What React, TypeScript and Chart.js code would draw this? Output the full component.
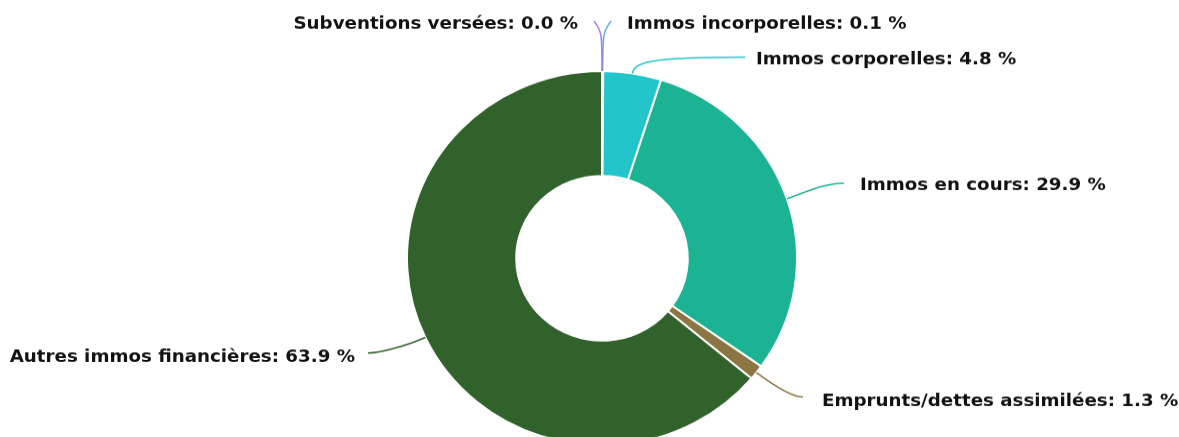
import React, { useEffect, useRef } from 'react';
import { Chart, registerables } from 'chart.js';

Chart.register(...registerables);

// ---- data (clockwise from 12 o'clock) ----
const categories = [
  'Immos incorporelles',
  'Immos corporelles',
  'Immos en cours',
  'Emprunts/dettes assimilées',
  'Autres immos financières',
  'Subventions versées',
];
const shares = [0.1, 4.8, 29.9, 1.3, 63.9, 0.0];
const sliceColors = ['#5da5e8', '#22c5ca', '#1bb394', '#8b7542', '#32622b', '#a678e8'];

// ---- layout ----
const W = 1179;
const H = 475;
const K = 0.96; // vertical display scale of the canvas

// label layout in displayed pixels: text anchor, leader end, leader shape
const labelLayout = [
  { tx: 627, ty: 24, align: 'left', ex: 611, ey: 21, a: 38, c2x: -8, c2y: 10 },
  { tx: 756, ty: 60, align: 'left', ex: 745, ey: 57, a: 12, c2x: -95, c2y: 0 },
  { tx: 860, ty: 186, align: 'left', ex: 844, ey: 183, a: 15, c2x: -20, c2y: 0 },
  { tx: 822, ty: 402, align: 'left', ex: 803, ey: 397, a: 20, c2x: -12, c2y: 0 },
  { tx: 355, ty: 357, align: 'right', ex: 368, ey: 353, a: 20, c2x: 12, c2y: 0 },
  { tx: 578, ty: 24, align: 'right', ex: 594, ey: 21, a: 38, c2x: 8, c2y: 10 },
];

const labelsPlugin = {
  id: 'pieLabels',
  afterDraw(chart: any) {
    const ctx = chart.ctx;
    const meta = chart.getDatasetMeta(0);
    ctx.save();
    meta.data.forEach((arc: any, i: number) => {
      const L = labelLayout[i];
      const mid = (arc.startAngle + arc.endAngle) / 2;
      const dx = Math.cos(mid);
      const dy = Math.sin(mid);
      const r = arc.outerRadius;
      const p0x = arc.x + dx * r;
      const p0y = arc.y + dy * r;
      const c1x = p0x + dx * L.a;
      const c1y = p0y + dy * L.a;
      const ex = L.ex;
      const ey = L.ey / K;
      const c2x = ex + L.c2x;
      const c2y = (L.ey + L.c2y) / K;
      ctx.beginPath();
      ctx.moveTo(p0x, p0y);
      ctx.bezierCurveTo(c1x, c1y, c2x, c2y, ex, ey);
      ctx.strokeStyle = sliceColors[i];
      ctx.lineWidth = 1.5;
      ctx.stroke();

      const text = `${categories[i]}: ${shares[i].toFixed(1)} %`;
      ctx.font = 'bold 18.25px "DejaVu Sans"';
      ctx.fillStyle = '#111111';
      ctx.textBaseline = 'middle';
      ctx.textAlign = L.align;
      ctx.fillText(text, L.tx, L.ty / K);
    });
    ctx.restore();
  },
};

export default function App() {
  const ref = useRef<HTMLCanvasElement | null>(null);

  useEffect(() => {
    document.body.style.margin = '0';
    document.documentElement.style.overflow = 'hidden';
    const canvas = ref.current;
    if (!canvas) return;
    const chart = new Chart(canvas, {
      type: 'doughnut',
      data: {
        labels: categories,
        datasets: [
          {
            data: shares,
            backgroundColor: sliceColors,
            borderColor: '#ffffff',
            borderWidth: 2,
          },
        ],
      },
      options: {
        responsive: false,
        devicePixelRatio: 1,
        animation: false,
        cutout: '44%',
        layout: { padding: { left: 406, right: 381, top: 73, bottom: 10 } },
        plugins: {
          legend: { display: false },
          tooltip: { enabled: false },
        },
      },
      plugins: [labelsPlugin],
    } as any);
    return () => chart.destroy();
  }, []);

  return (
    <div style={{ width: W, height: 437, overflow: 'hidden', background: '#fff' }}>
      <canvas
        ref={ref}
        width={W}
        height={H}
        style={{ display: 'block', width: `${W}px`, height: `${H * K}px` }}
      />
    </div>
  );
}
